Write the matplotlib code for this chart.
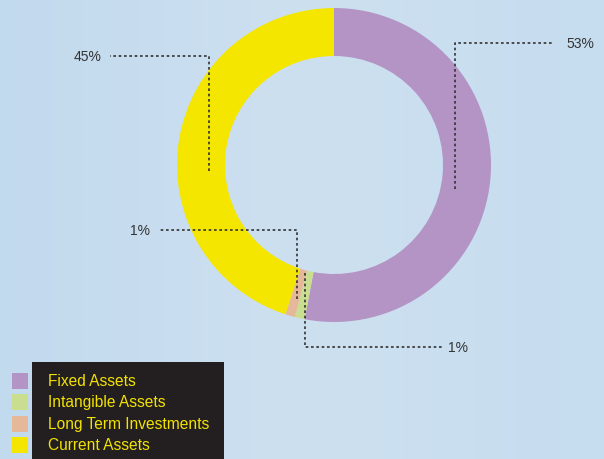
import matplotlib
matplotlib.use("Agg")
import matplotlib.pyplot as plt
import numpy as np
from matplotlib.patches import Rectangle
from matplotlib.colors import LinearSegmentedColormap

categories = ["Fixed Assets", "Intangible Assets", "Long Term Investments", "Current Assets"]
values = [53, 1, 1, 45]
labels = ["53%", "1%", "1%", "45%"]
colors = ["#b394c4", "#c9df8f", "#e6b89a", "#f5e600"]

W, H = 604, 460
fig = plt.figure(figsize=(W / 100, H / 100), dpi=100)
ax = fig.add_axes([0, 0, 1, 1])
ax.set_xlim(0, W)
ax.set_ylim(0, H)
ax.axis("off")

# background gradient
grad = np.linspace(0, 1, 256).reshape(1, -1)
cm = LinearSegmentedColormap.from_list("bg", ["#c2daee", "#cde0f0", "#c6ddef"])
ax.imshow(grad, extent=[0, W, 0, H], cmap=cm, aspect="auto", zorder=0)

cx, cy, R = 334, H - 166, 157
ax.pie(values, colors=colors, startangle=90, counterclock=False,
       center=(cx, cy), radius=R, frame=True,
       wedgeprops=dict(width=48, linewidth=0))
ax.set_xlim(0, W)
ax.set_ylim(0, H)
ax.set_aspect("auto")
ax.axis("off")

font = "Liberation Sans"
lc = "#333333"
ls = dict(color="#333333", lw=1.2, linestyle=(0, (1.6, 1.6)))

def leader(pts, label, lx, ly, ha):
    xs = [p[0] for p in pts]
    ys = [H - p[1] for p in pts]
    ax.plot(xs, ys, **ls, zorder=3)
    ax.text(lx, H - ly, label, ha=ha, va="center", fontsize=10, color=lc, family=font, zorder=4)

leader([(455, 190), (455, 44), (553, 44)], labels[0], 566, 44, "left")
leader([(305, 274), (305, 348), (442, 348)], labels[1], 448, 348, "left")
leader([(297, 300), (297, 231), (160, 231)], labels[2], 150, 231, "right")
leader([(209, 172), (209, 57), (110, 57)], labels[3], 102, 57, "right")

# legend
ax.add_patch(Rectangle((32, 0), 192, H - 363, facecolor="#231f20", edgecolor="none", zorder=3))
rows = [382, 403, 425, 446]
for cat, col, y in zip(categories, colors, rows):
    ax.add_patch(Rectangle((12, H - y - 8), 16, 16, facecolor=col, edgecolor="none", zorder=4))
    ax.text(48, H - y, cat, ha="left", va="center", fontsize=11.2, color="#f2e200", family=font, zorder=4)

fig.savefig("out.png", dpi=100)
